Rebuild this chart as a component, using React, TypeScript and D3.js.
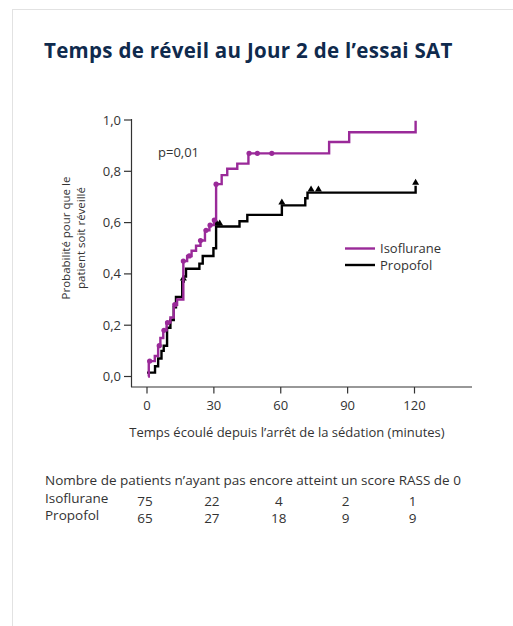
import React from 'react';
import * as d3 from 'd3';

// Step data
const isoTimes = [0.5, 0.8, 3.5, 5, 6, 7.3, 8.8, 10.5, 12, 13.5, 16.3, 18, 20, 22, 24, 26, 28, 30, 31, 33.5, 36, 40.5, 45.5, 81.7, 90.7, 120.5];
const isoProbs = [0, 0.06, 0.08, 0.12, 0.15, 0.18, 0.21, 0.23, 0.28, 0.3, 0.45, 0.47, 0.49, 0.51, 0.53, 0.57, 0.59, 0.61, 0.75, 0.785, 0.81, 0.83, 0.87, 0.914, 0.952, 0.997];
const isoDotTimes = [1.2, 5.5, 7.6, 9.2, 12.5, 16.3, 19, 24, 26.5, 28.3, 30.2, 31, 45.8, 49.5, 56];

const propTimes = [0, 3.6, 5, 6.5, 7.5, 9, 10.5, 12, 13, 15.8, 16.5, 17.5, 23.5, 25, 29.8, 31, 41.5, 45, 60.5, 71, 72, 120.5];
const propProbs = [0.015, 0.04, 0.07, 0.1, 0.12, 0.19, 0.22, 0.27, 0.31, 0.37, 0.39, 0.42, 0.44, 0.47, 0.5, 0.585, 0.605, 0.63, 0.667, 0.695, 0.717, 0.744];
const propMarkTimes = [16.3, 31.3, 32.6, 60.5, 73.6, 76.9, 120.5];

const xTicks = [0, 30, 60, 90, 120];
const yTicks = [0, 0.2, 0.4, 0.6, 0.8, 1.0];

const atRiskLabels = ['Isoflurane', 'Propofol'];
const atRiskIso = [75, 22, 4, 2, 1];
const atRiskProp = [65, 27, 18, 9, 9];

const PURPLE = '#9a2a99';
const FONT = '"Open Sans", sans-serif';

const App = () => {
  const x = d3.scaleLinear().domain([0, 120]).range([147, 414.5]);
  const y = d3.scaleLinear().domain([0, 1]).range([376.5, 120]);

  const stepAt = (times: number[], probs: number[], t: number) => {
    let v = probs[0];
    times.forEach((tt, i) => { if (tt <= t) v = probs[i]; });
    return v;
  };

  const line = d3.line<[number, number]>()
    .x(d => x(d[0]))
    .y(d => y(d[1]))
    .curve(d3.curveStepAfter);

  const isoPts = isoTimes.map((t, i) => [t, isoProbs[i]] as [number, number]);
  const propPts = propTimes.map((t, i) => [t, propProbs[i]] as [number, number]);

  const fmt = (v: number) => v.toFixed(1).replace('.', ',');

  return (
    <div style={{ position: 'absolute', left: 0, top: 0 }}>
      <svg width={513} height={626} style={{ display: 'block', fontFamily: FONT }}>
        <rect x={0} y={0} width={513} height={626} fill="#fff" />
        <rect x={12.5} y={9.5} width={520} height={640} fill="#fff" stroke="#e2e2e2" strokeWidth={1} />

        <text x={44} y={58} fontSize={20.5} fontWeight={700} letterSpacing={0.3} fill="#0f2a4d">
          Temps de réveil au Jour 2 de l’essai SAT
        </text>

        {/* axes */}
        <line x1={131.5} y1={119} x2={131.5} y2={387} stroke="#333" strokeWidth={1.2} />
        <line x1={131} y1={387} x2={472} y2={387} stroke="#333" strokeWidth={1.2} />
        {yTicks.map(t => (
          <g key={t}>
            <line x1={124} x2={131.5} y1={y(t)} y2={y(t)} stroke="#333" strokeWidth={1.2} />
            <text x={121} y={y(t)} dy="0.35em" textAnchor="end" fontSize={13} fill="#333">{fmt(t)}</text>
          </g>
        ))}
        {xTicks.map(t => (
          <g key={t}>
            <line x1={x(t)} x2={x(t)} y1={387} y2={393.5} stroke="#333" strokeWidth={1.2} />
            <text x={x(t)} y={410} textAnchor="middle" fontSize={13} fill="#333">{t}</text>
          </g>
        ))}
        <text x={287} y={437} textAnchor="middle" fontSize={13} fill="#333">
          Temps écoulé depuis l’arrêt de la sédation (minutes)
        </text>
        <text transform="translate(70,238) rotate(-90)" textAnchor="middle" fontSize={11.5} fill="#333">
          Probabilité pour que le
        </text>
        <text transform="translate(85,238) rotate(-90)" textAnchor="middle" fontSize={11.5} fill="#333">
          patient soit réveillé
        </text>

        <text x={158} y={157} fontSize={13} fill="#333">p=0,01</text>

        {/* curves */}
        <path d={line(propPts) ?? ''} fill="none" stroke="#000" strokeWidth={2.4} />
        {propMarkTimes.map((t, i) => {
          const cx = x(t);
          const cy = y(stepAt(propTimes, propProbs, t)) - 1;
          return <path key={i} d={`M${cx - 3.5},${cy} L${cx + 3.5},${cy} L${cx},${cy - 6} Z`} fill="#000" />;
        })}
        <path d={line(isoPts) ?? ''} fill="none" stroke={PURPLE} strokeWidth={2.4} />
        {isoDotTimes.map((t, i) => (
          <circle key={i} cx={x(t)} cy={y(stepAt(isoTimes, isoProbs, t))} r={2.6} fill={PURPLE} />
        ))}

        {/* legend */}
        <line x1={345} x2={375} y1={248.5} y2={248.5} stroke={PURPLE} strokeWidth={2.4} />
        <text x={380} y={248.5} dy="0.35em" fontSize={13} fill="#333">Isoflurane</text>
        <line x1={345} x2={375} y1={265} y2={265} stroke="#000" strokeWidth={2.4} />
        <text x={380} y={265} dy="0.35em" fontSize={13} fill="#333">Propofol</text>

        {/* numbers at risk */}
        <text x={45} y={485} fontSize={13.5} fill="#333">
          Nombre de patients n’ayant pas encore atteint un score RASS de 0
        </text>
        {[atRiskIso, atRiskProp].map((row, r) => (
          <g key={r}>
            <text x={45} y={503 + r * 16.5} fontSize={13.5} fill="#333">{atRiskLabels[r]}</text>
            {row.map((v, i) => (
              <text key={i} x={x(xTicks[i]) - 2} y={506 + r * 16.5} textAnchor="middle" fontSize={13.5} fill="#333">{v}</text>
            ))}
          </g>
        ))}
      </svg>
    </div>
  );
};

export default App;
